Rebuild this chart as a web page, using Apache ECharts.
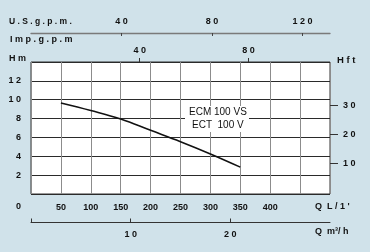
<!DOCTYPE html>
<html>
<head>
<meta charset="utf-8">
<script src="https://cdn.jsdelivr.net/npm/echarts@6/dist/echarts.min.js"></script>
<style>html,body{margin:0;padding:0;}#c{width:370px;height:252px;}</style>
</head>
<body>
<div id="c"></div>
<script>
// Data
const flowLpm = [50, 100, 150, 200, 250, 300, 350];
const headM = [9.65, 8.85, 7.95, 6.75, 5.55, 4.25, 2.85];
const qLabels = [50, 100, 150, 200, 250, 300, 350, 400];
const usGpmTicks = [40, 80, 120];
const impGpmTicks = [40, 80];
const m3hTicks = [10, 20];
const hftTicks = [10, 20, 30];
const hmLabels = [2, 4, 6, 8, 10, 12];

const spaced = v => String(v).split('').join(' ');
const lblFont = { fontFamily: 'Liberation Sans', fontWeight: 'bold', fontSize: 9, color: '#111' };

const chart = echarts.init(document.getElementById('c'), null, { renderer: 'canvas' });
chart.setOption({
  animation: false,
  backgroundColor: '#d0e2ea',
  grid: { left: 31, right: 40, top: 62, bottom: 58, show: true, backgroundColor: '#fff', borderColor: '#333', borderWidth: 1 },
  xAxis: [
    { type: 'value', min: 0, max: 500, interval: 50, position: 'bottom',
      axisLine: { show: false, onZero: false }, axisTick: { show: false },
      axisLabel: Object.assign({ margin: 9, formatter: v => qLabels.includes(v) ? String(v) : '' }, lblFont),
      splitLine: { show: true, lineStyle: { color: '#8c8c8c', width: 1 } } },
    { type: 'value', min: 0, max: 500 / 3.785, position: 'top', offset: 29,
      axisLine: { show: true, onZero: false, lineStyle: { color: '#7a7a7a', width: 1.3 } },
      axisTick: { show: true, inside: true, length: 3, customValues: usGpmTicks, lineStyle: { color: '#444' } },
      axisLabel: Object.assign({ margin: 7, customValues: usGpmTicks, formatter: v => spaced(v) }, lblFont),
      splitLine: { show: false } },
    { type: 'value', min: 0, max: 500 / 4.546, position: 'top', offset: 0,
      axisLine: { show: false, onZero: false },
      axisTick: { show: true, inside: false, length: 4, customValues: impGpmTicks, lineStyle: { color: '#333' } },
      axisLabel: Object.assign({ margin: 7, customValues: impGpmTicks, formatter: v => spaced(v) }, lblFont),
      splitLine: { show: false } },
    { type: 'value', min: 0, max: 30, position: 'bottom', offset: 28.5,
      axisLine: { show: true, onZero: false, lineStyle: { color: '#333', width: 1 } },
      axisTick: { show: true, inside: true, length: 4, customValues: [0].concat(m3hTicks), lineStyle: { color: '#333' } },
      axisLabel: Object.assign({ margin: 8, customValues: m3hTicks, formatter: v => spaced(v) }, lblFont),
      splitLine: { show: false } }
  ],
  yAxis: [
    { type: 'value', min: 0, max: 14, interval: 2, position: 'left',
      axisLine: { show: false, onZero: false }, axisTick: { show: false },
      axisLabel: Object.assign({ margin: 10, formatter: v => hmLabels.includes(v) ? spaced(v) : '' }, lblFont),
      splitLine: { show: true, lineStyle: { color: '#2a2a2a', width: 1 } } },
    { type: 'value', min: -0.69, max: 45.03, position: 'right',
      axisLine: { show: false, onZero: false },
      axisTick: { show: true, inside: false, length: 8, customValues: hftTicks, lineStyle: { color: '#333' } },
      axisLabel: Object.assign({ margin: 13, customValues: hftTicks, formatter: v => spaced(v) }, lblFont),
      splitLine: { show: false } }
  ],
  series: [{
    type: 'line', xAxisIndex: 0, yAxisIndex: 0, smooth: 0.4, showSymbol: false,
    lineStyle: { color: '#111', width: 1.6 },
    data: flowLpm.map((q, i) => [q, headM[i]])
  }],
  graphic: [
    { type: 'text', left: 9, top: 17, style: { text: 'U . S . g . p . m .', font: 'bold 8.5px "Liberation Sans"', fill: '#111' } },
    { type: 'text', left: 10, top: 35, style: { text: 'I m p . g . p . m', font: 'bold 9px "Liberation Sans"', fill: '#111' } },
    { type: 'text', left: 9, top: 54, style: { text: 'H m', font: 'bold 9px "Liberation Sans"', fill: '#111' } },
    { type: 'text', left: 337, top: 55, style: { text: 'H f t', font: 'bold 9.5px "Liberation Sans"', fill: '#111' } },
    { type: 'text', left: 16, top: 202, style: { text: '0', font: 'bold 9px "Liberation Sans"', fill: '#111' } },
    { type: 'text', left: 315, top: 202, style: { text: 'Q  L / 1 \'', font: 'bold 9px "Liberation Sans"', fill: '#111' } },
    { type: 'text', left: 315, top: 227, style: { text: 'Q  m³/ h', font: 'bold 9px "Liberation Sans"', fill: '#111' } },
    { type: 'rect', left: 185, top: 106, z: 9, shape: { width: 64, height: 26 }, style: { fill: '#fff' } },
    { type: 'text', left: 189, top: 107, z: 10, style: { text: 'ECM 100 VS', font: '10px "Liberation Sans"', fill: '#111' } },
    { type: 'text', left: 192, top: 120, z: 10, style: { text: 'ECT  100 V', font: '10px "Liberation Sans"', fill: '#111' } }
  ]
});
</script>
</body>
</html>
